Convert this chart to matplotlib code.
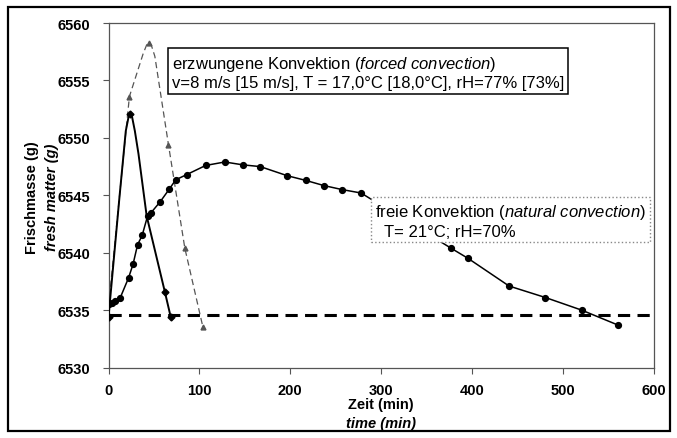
import matplotlib
matplotlib.use("Agg")
import matplotlib.pyplot as plt
from matplotlib.patches import Rectangle

plt.rcParams['font.family'] = ['Liberation Sans', 'DejaVu Sans']
plt.rcParams['mathtext.fontset'] = 'custom'
plt.rcParams['mathtext.rm'] = 'Liberation Sans'
plt.rcParams['mathtext.it'] = 'Liberation Sans:italic'
plt.rcParams['mathtext.bf'] = 'Liberation Sans:bold'

# natural convection (freie Konvektion)
nat_t = [1, 4, 7, 13, 22, 27, 32, 37, 43, 47, 57, 67, 74, 86, 107, 128, 148, 167,
         197, 217, 237, 257, 278, 377, 396, 441, 481, 521, 561]
nat_m = [6535.5, 6535.6, 6535.8, 6536.1, 6537.8, 6539.0, 6540.7, 6541.5, 6543.2,
         6543.5, 6544.45, 6545.55, 6546.35, 6546.8, 6547.6, 6547.9, 6547.65, 6547.5,
         6546.7, 6546.3, 6545.85, 6545.5, 6545.2, 6540.4, 6539.5, 6537.1, 6536.1,
         6535.0, 6533.7]

# forced convection 8 m/s (solid)
f8_t = [0, 12, 19, 22, 24, 26, 29, 33, 42, 62, 68.5]
f8_m = [6534.4, 6544.8, 6550.6, 6551.8, 6552.1, 6551.8, 6550.6, 6548.6, 6543.2, 6536.6, 6534.4]
f8_marks = [0, 4, 9, 10]

# forced convection 15 m/s (dashed)
f15_t = [0, 23, 38, 42, 44.6, 47, 51, 66, 84, 104]
f15_m = [6535.3, 6553.6, 6557.3, 6558.1, 6558.3, 6558.1, 6557.1, 6549.4, 6540.4, 6533.5]
f15_marks = [1, 4, 7, 8, 9]

# initial mass reference line
base_m = 6534.6
base_t = [0, 600]

x_ticks = [0, 100, 200, 300, 400, 500, 600]
y_ticks = [6530, 6535, 6540, 6545, 6550, 6555, 6560]

fig = plt.figure(figsize=(6.77, 4.39), dpi=100)
ax = fig.add_axes([0.1603, 0.1604, 0.805, 0.7849])

ax.plot(base_t, [base_m, base_m], color='black', lw=2.2, ls=(0, (4, 2.4)), zorder=2)
ax.plot(f15_t, f15_m, color='#555555', lw=0.9, ls=(0, (5, 3)), marker='^',
        markersize=3.5, markevery=f15_marks, zorder=3)
ax.plot(f8_t, f8_m, color='black', lw=1.4, marker='D', markersize=3.5,
        markevery=f8_marks, zorder=4)
ax.plot(nat_t, nat_m, color='black', lw=1.1, marker='o', markersize=4.2, zorder=4)

ax.set_xlim(0, 600)
ax.set_ylim(6530, 6560)
ax.set_xticks(x_ticks)
ax.set_yticks(y_ticks)
ax.set_xticklabels([str(v) for v in x_ticks], fontweight='bold', fontsize=10.5)
ax.set_yticklabels([str(v) for v in y_ticks], fontweight='bold', fontsize=10.5)
ax.tick_params(axis='y', direction='out', length=4, width=0.8, color='#555555', pad=9)
ax.tick_params(axis='x', direction='out', length=4, width=0.8, color='#555555', pad=7)
for s in ax.spines.values():
    s.set_color('#555555')
    s.set_linewidth(0.9)

# axis labels
fig.text(0.047, 0.55, 'Frischmasse (g)', rotation=90, ha='center', va='center',
         fontsize=10.5, fontweight='bold')
fig.text(0.077, 0.55, 'fresh matter (g)', rotation=90, ha='center', va='center',
         fontsize=10.5, fontweight='bold', style='italic')
fig.text(0.563, 0.078, 'Zeit (min)', ha='center', va='center', fontsize=10.5,
         fontweight='bold')
fig.text(0.563, 0.034, 'time (min)', ha='center', va='center', fontsize=10.5,
         fontweight='bold', style='italic')

# annotation boxes
ax.text(0.1165, 0.910,
        'erzwungene Konvektion ($\\mathit{forced\\ convection}$)\n'
        'v=8 m/s [15 m/s], T = 17,0\u00b0C [18,0\u00b0C], rH=77% [73%]',
        transform=ax.transAxes, ha='left', va='top', fontsize=12, linespacing=1.2,
        bbox=dict(boxstyle='square,pad=0.22', fc='white', ec='black', lw=1.1), zorder=6)
ax.text(0.489, 0.480,
        'freie Konvektion ($\\mathit{natural\\ convection}$)\n'
        '  T= 21\u00b0C; rH=70%',
        transform=ax.transAxes, ha='left', va='top', fontsize=12, linespacing=1.2,
        bbox=dict(boxstyle='square,pad=0.22', fc='white', ec='#888888', lw=1.0,
                  ls=':'), zorder=6)

# outer frame
fig.patches.append(Rectangle((0.012, 0.015), 0.978, 0.966, transform=fig.transFigure,
                             fill=False, ec='black', lw=1.6))

fig.savefig('out.png', dpi=100)
